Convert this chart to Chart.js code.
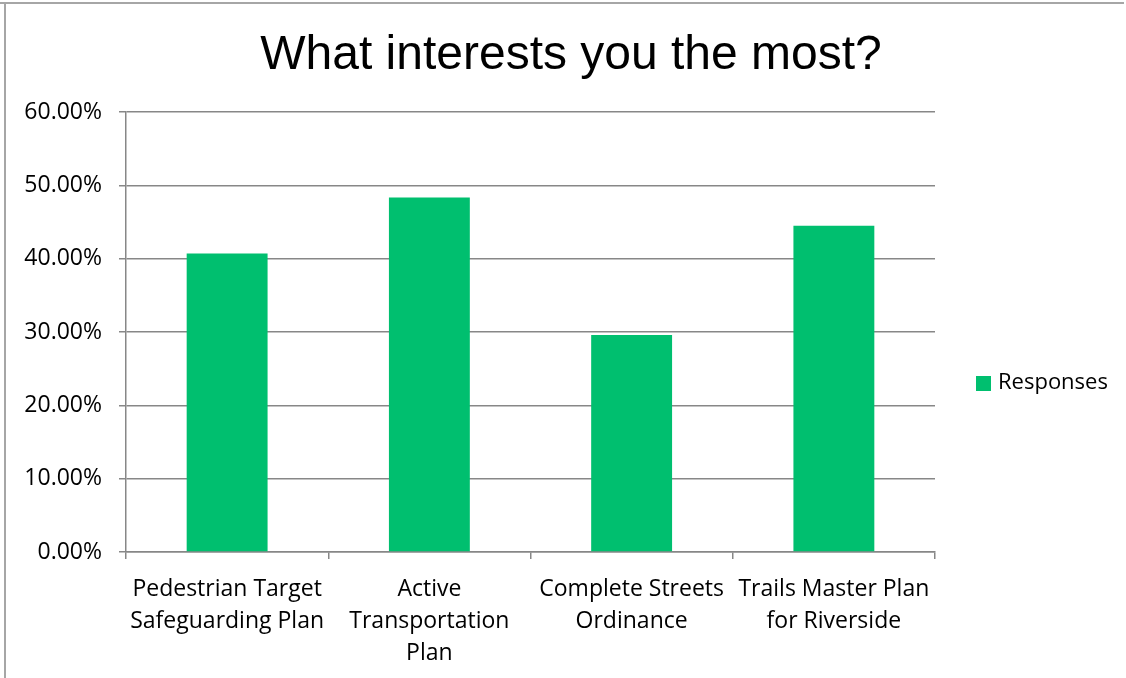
<!DOCTYPE html>
<html>
<head>
<meta charset="utf-8">
<script src="https://cdn.jsdelivr.net/npm/chart.js@4.4.1/dist/chart.umd.min.js"></script>
<style>
  html, body { margin: 0; padding: 0; background: #fff; }
  #wrap { width: 1126px; height: 678px; position: relative; }
</style>
</head>
<body>
<div id="wrap"><canvas id="chart" width="1126" height="678"></canvas></div>
<script>
/* =============== Data =============== */
const categories = [
  ["Pedestrian Target", "Safeguarding Plan"],
  ["Active", "Transportation", "Plan"],
  ["Complete Streets", "Ordinance"],
  ["Trails Master Plan", "for Riverside"]
];
const responses = [40.7, 48.35, 29.6, 44.5];
const yTicks = [0, 10, 20, 30, 40, 50, 60];

const chartTitle = "What interests you the most?";
const seriesLabel = "Responses";

/* =============== Style =============== */
const GREEN = "#00bf6f";
const GRID = "#878787";
const LABEL_FONT = "Open Sans";

/* frame lines of the cropped slide */
const framePlugin = {
  id: "frame",
  afterDraw(chart) {
    const ctx = chart.ctx;
    ctx.save();
    ctx.strokeStyle = "#a6a6a6";
    ctx.lineWidth = 2;
    ctx.beginPath();
    ctx.moveTo(0, 3);
    ctx.lineTo(1124, 3);
    ctx.moveTo(5, 3);
    ctx.lineTo(5, 678);
    ctx.stroke();
    ctx.restore();
  }
};

/* title sits over the whole slide, not just the plot, so draw it here */
const titlePlugin = {
  id: "slideTitle",
  afterDraw(chart) {
    const ctx = chart.ctx;
    ctx.save();
    ctx.fillStyle = "#000";
    ctx.font = "48px 'Liberation Sans'";
    ctx.textAlign = "center";
    ctx.textBaseline = "alphabetic";
    ctx.fillText(chartTitle, 571, 69);
    ctx.restore();
  }
};

const legendPlugin = {
  id: "sideLegend",
  afterDraw(chart) {
    const ctx = chart.ctx;
    const ds = chart.data.datasets[0];
    ctx.save();
    ctx.fillStyle = ds.backgroundColor;
    ctx.fillRect(976, 376, 15, 15);
    ctx.fillStyle = "#000";
    ctx.font = "22px " + LABEL_FONT;
    ctx.textBaseline = "middle";
    ctx.fillText(ds.label, 998, 383);
    ctx.restore();
  }
};

new Chart(document.getElementById("chart"), {
  type: "bar",
  data: {
    labels: categories,
    datasets: [{
      label: seriesLabel,
      data: responses,
      backgroundColor: GREEN,
      borderWidth: 0,
      barPercentage: 0.4,
      categoryPercentage: 1
    }]
  },
  options: {
    responsive: false,
    animation: false,
    layout: { padding: { left: 0, right: 191, top: 112, bottom: 0 } },
    plugins: {
      legend: { display: false },
      tooltip: { enabled: false },
      title: { display: false }
    },
    scales: {
      x: {
        grid: { offset: true, drawOnChartArea: false, color: GRID, lineWidth: 1.5, tickLength: 7 },
        border: { color: GRID, width: 1.5 },
        ticks: {
          color: "#000",
          padding: 14,
          maxRotation: 0,
          autoSkip: false,
          font: { family: LABEL_FONT, size: 23, lineHeight: "32px" }
        },
        afterFit(scale) { scale.height = 126; }
      },
      y: {
        min: 0,
        max: 60,
        afterBuildTicks(scale) { scale.ticks = yTicks.map(v => ({ value: v })); },
        grid: { color: GRID, lineWidth: 1.5, tickLength: 7 },
        border: { color: GRID, width: 1.5 },
        ticks: {
          color: "#000",
          padding: 17,
          font: { family: LABEL_FONT, size: 23 },
          callback: v => v.toFixed(2) + "%"
        },
        afterFit(scale) { scale.width = 126; }
      }
    }
  },
  plugins: [framePlugin, titlePlugin, legendPlugin]
});
</script>
</body>
</html>
